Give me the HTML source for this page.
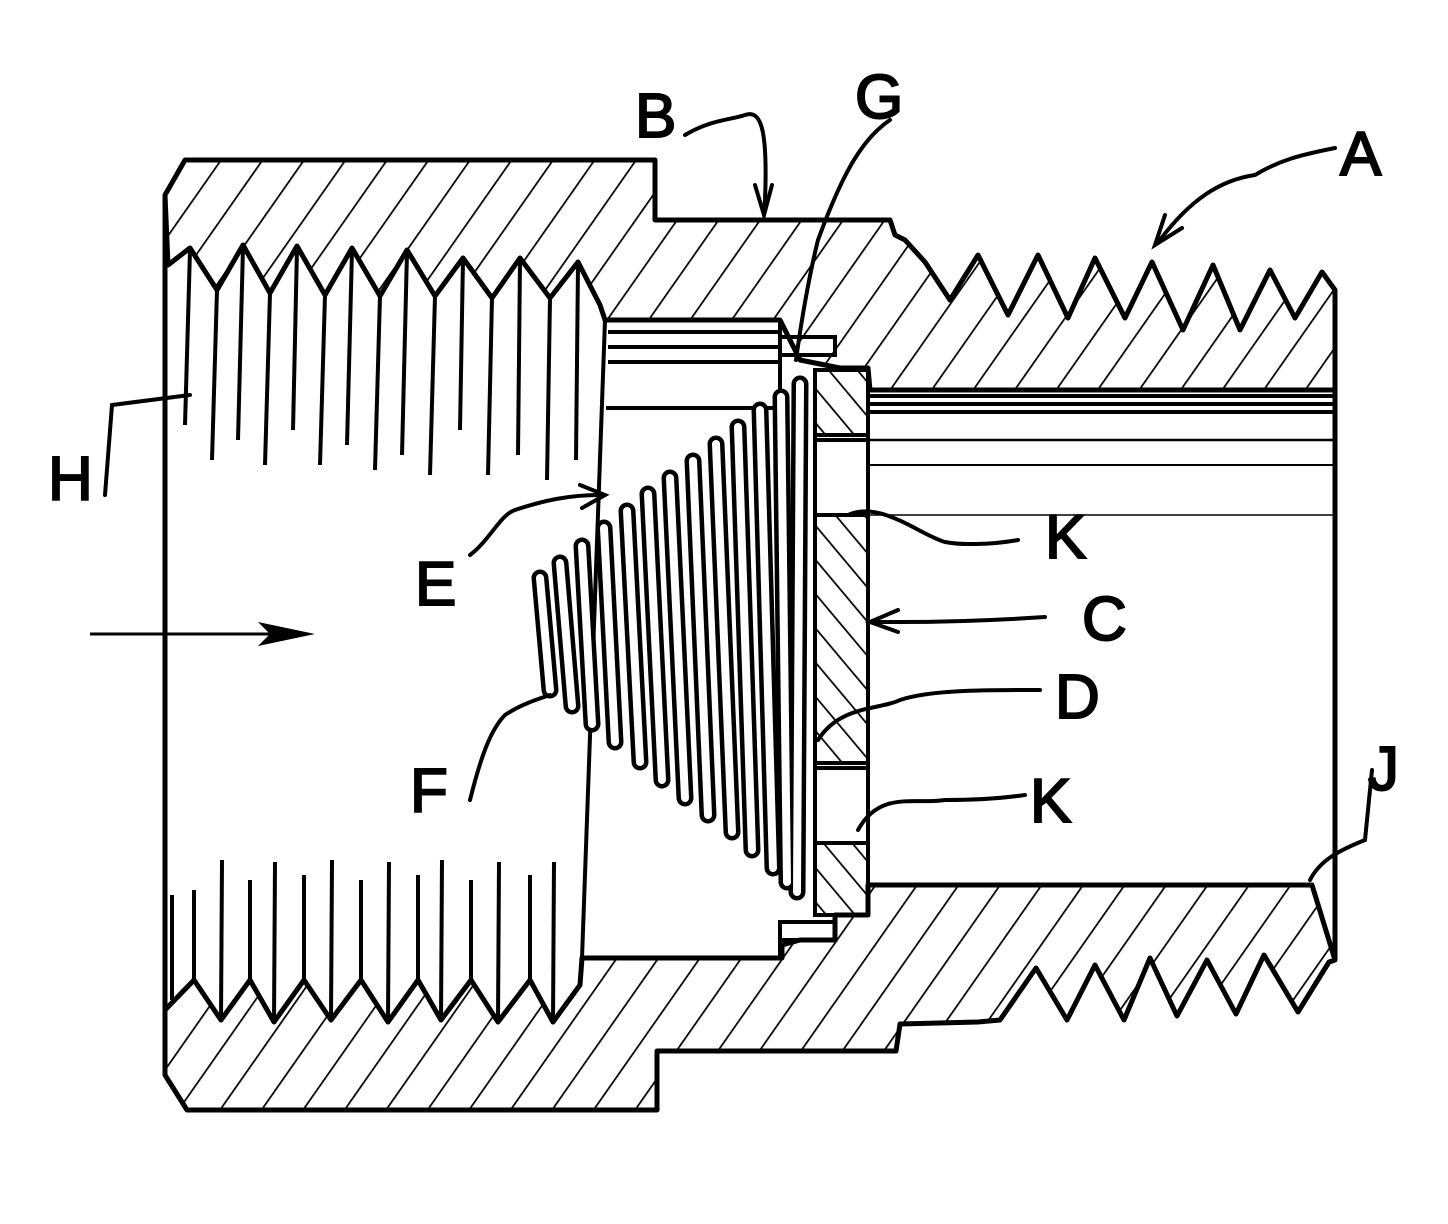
<!DOCTYPE html>
<html><head><meta charset="utf-8"><style>
html,body{margin:0;padding:0;background:#fff}
svg{display:block}
text{font-family:"Liberation Sans",sans-serif;font-size:62px;fill:#000}
</style></head><body>
<svg width="1448" height="1224" viewBox="0 0 1448 1224" xmlns="http://www.w3.org/2000/svg">
<defs>
<pattern id="h" width="34" height="34" patternUnits="userSpaceOnUse" patternTransform="rotate(35)">
<line x1="0" y1="0" x2="0" y2="34" stroke="#000" stroke-width="3.5"/>
</pattern>
<pattern id="d" width="22" height="22" patternUnits="userSpaceOnUse" patternTransform="rotate(-40)">
<line x1="0" y1="0" x2="0" y2="22" stroke="#000" stroke-width="3.5"/>
</pattern>
</defs>
<g stroke="#000" stroke-width="5" stroke-linejoin="round" fill="none">
<!-- top body -->
<path fill="url(#h)" d="M185,160 L655,160 L655,220 L890,220 L895,235 L905,240 L925,262 L950,300 L978,255 L1008,315 L1038,255 L1068,318 L1095,258 L1125,318 L1152,262 L1183,330 L1213,265 L1240,330 L1270,270 L1295,318 L1322,272 L1335,290 L1335,390 L870,390 L868,368 L840,368 L800,360 L780,320 L605,320 L600,305 L578,262 L550,298 L520,258 L492,298 L463,258 L435,296 L407,250 L380,296 L352,248 L325,295 L297,246 L270,293 L243,245 L217,290 L190,248 L168,265 L165,195 Z"/>
<!-- bottom body -->
<path fill="url(#h)" d="M165,1010 L194,980 L221,1020 L250,980 L274,1022 L304,980 L331,1020 L361,980 L388,1022 L418,980 L441,1020 L471,980 L498,1022 L530,980 L553,1022 L580,985 L582,958 L782,958 L782,945 L800,940 L835,940 L835,915 L868,915 L868,885 L1312,885 L1335,960 L1329,962 L1298,1012 L1264,955 L1236,1014 L1207,960 L1177,1016 L1150,958 L1124,1020 L1095,965 L1067,1020 L1036,968 L1000,1020 L978,1022 L900,1024 L896,1051 L657,1051 L657,1110 L187,1110 L165,1075 Z"/>
<!-- left wall -->
<line x1="165" y1="195" x2="165" y2="1075"/>
<line x1="1335" y1="290" x2="1335" y2="960"/>
</g>
<!-- internal thread crest lines top -->
<g stroke="#000" stroke-width="4">
<line x1="190" y1="250" x2="185" y2="425"/><line x1="217" y1="290" x2="212" y2="460"/>
<line x1="243" y1="247" x2="238" y2="440"/><line x1="270" y1="293" x2="265" y2="465"/>
<line x1="297" y1="248" x2="293" y2="430"/><line x1="325" y1="295" x2="320" y2="465"/>
<line x1="352" y1="250" x2="347" y2="445"/><line x1="380" y1="296" x2="375" y2="470"/>
<line x1="407" y1="252" x2="402" y2="455"/><line x1="435" y1="296" x2="430" y2="475"/>
<line x1="463" y1="258" x2="460" y2="430"/><line x1="492" y1="298" x2="488" y2="475"/>
<line x1="520" y1="260" x2="518" y2="455"/><line x1="550" y1="298" x2="547" y2="480"/>
<line x1="578" y1="264" x2="576" y2="460"/>
<!-- bottom -->
<line x1="194" y1="980" x2="194" y2="890"/><line x1="221" y1="1020" x2="222" y2="860"/>
<line x1="250" y1="980" x2="250" y2="880"/><line x1="274" y1="1022" x2="275" y2="862"/>
<line x1="304" y1="980" x2="304" y2="875"/><line x1="331" y1="1020" x2="332" y2="860"/>
<line x1="361" y1="980" x2="361" y2="880"/><line x1="388" y1="1022" x2="389" y2="862"/>
<line x1="418" y1="980" x2="418" y2="875"/><line x1="441" y1="1020" x2="442" y2="860"/>
<line x1="471" y1="980" x2="471" y2="880"/><line x1="498" y1="1022" x2="499" y2="862"/>
<line x1="530" y1="980" x2="530" y2="875"/><line x1="553" y1="1022" x2="554" y2="862"/>
<line x1="172" y1="895" x2="172" y2="1000"/>
</g>
<!-- chamber -->
<g stroke="#000" stroke-width="4" fill="none">
<line x1="605" y1="320" x2="582" y2="958"/>
<line x1="608" y1="332" x2="780" y2="332"/>
<line x1="608" y1="347" x2="780" y2="347"/>
<line x1="608" y1="362" x2="780" y2="362"/>
<line x1="606" y1="408" x2="780" y2="408"/>
<line x1="780" y1="320" x2="780" y2="408"/>
<line x1="780" y1="925" x2="780" y2="958"/>
<rect x="780" y="337" width="55" height="18"/>
<rect x="780" y="922" width="55" height="18"/>
<!-- bore lines -->
<line x1="870" y1="396" x2="1335" y2="396"/>
<line x1="870" y1="404" x2="1335" y2="404"/>
<line x1="870" y1="412" x2="1335" y2="412"/>
<line x1="870" y1="440" x2="1335" y2="440" stroke-width="2.5"/>
<line x1="870" y1="465" x2="1335" y2="465" stroke-width="2"/>
<line x1="870" y1="515" x2="1335" y2="515" stroke-width="1.5"/>
</g>
<!-- disc -->
<g stroke="#000" stroke-width="4">
<rect x="815" y="370" width="53" height="65" fill="url(#d)"/>
<rect x="815" y="515" width="53" height="248" fill="url(#d)"/>
<rect x="815" y="843" width="53" height="72" fill="url(#d)"/>
<line x1="815" y1="370" x2="815" y2="915"/>
<line x1="868" y1="370" x2="868" y2="915"/>
<line x1="815" y1="440" x2="868" y2="440"/>
<line x1="815" y1="768" x2="868" y2="768"/>
</g>
<!-- spring -->
<g stroke-linecap="round">
<g stroke="#000" stroke-width="17">
<line x1="540" y1="578" x2="550" y2="690"/><line x1="560" y1="563" x2="572" y2="706"/>
<line x1="582" y1="546" x2="592" y2="724"/><line x1="604" y1="528" x2="615" y2="742"/>
<line x1="627" y1="511" x2="640" y2="762"/><line x1="648" y1="494" x2="662" y2="780"/>
<line x1="670" y1="478" x2="685" y2="798"/><line x1="693" y1="461" x2="708" y2="815"/>
<line x1="716" y1="444" x2="732" y2="832"/><line x1="738" y1="427" x2="752" y2="850"/>
<line x1="760" y1="410" x2="773" y2="868"/><line x1="781" y1="397" x2="787" y2="882"/>
<line x1="800" y1="384" x2="797" y2="892"/>
</g>
<g stroke="#fff" stroke-width="8">
<line x1="540" y1="578" x2="550" y2="690"/><line x1="560" y1="563" x2="572" y2="706"/>
<line x1="582" y1="546" x2="592" y2="724"/><line x1="604" y1="528" x2="615" y2="742"/>
<line x1="627" y1="511" x2="640" y2="762"/><line x1="648" y1="494" x2="662" y2="780"/>
<line x1="670" y1="478" x2="685" y2="798"/><line x1="693" y1="461" x2="708" y2="815"/>
<line x1="716" y1="444" x2="732" y2="832"/><line x1="738" y1="427" x2="752" y2="850"/>
<line x1="760" y1="410" x2="773" y2="868"/><line x1="781" y1="397" x2="787" y2="882"/>
<line x1="800" y1="384" x2="797" y2="892"/>
</g>
</g>
<!-- flow arrow -->
<g stroke="#000" stroke-width="3" fill="none">
<line x1="90" y1="634" x2="300" y2="634"/>
</g>
<path d="M315,634 L258,622 L270,634 L258,646 Z" fill="#000"/>
<!-- leaders -->
<g stroke="#000" stroke-width="4" fill="none" stroke-linecap="round">
<path d="M685,135 C710,120 730,120 745,115 C760,110 768,125 765,200 L764,215"/>
<path d="M755,185 L764,215 L772,185"/>
<path d="M890,120 C860,140 840,180 818,240 C808,280 800,330 796,360"/>
<path d="M1335,148 C1300,155 1280,160 1255,175 C1220,180 1190,200 1160,240"/>
<path d="M1165,215 L1155,245 L1182,228"/>
<path d="M105,495 L112,405 L190,395"/>
<path d="M470,555 C490,540 500,515 515,510 C545,500 570,495 600,495"/>
<path d="M580,485 L605,495 L582,508"/>
<path d="M1018,540 C990,545 960,545 945,542 C920,535 880,500 848,515"/>
<path d="M1045,617 C1000,620 950,622 900,622 L870,622"/>
<path d="M898,610 L870,622 L898,632"/>
<path d="M1040,690 C980,690 930,690 900,700 C880,710 840,705 818,740"/>
<path d="M1025,795 C990,800 960,800 945,800 C915,805 880,790 858,830"/>
<path d="M1372,770 L1365,840 C1340,850 1320,860 1310,880"/>
<path d="M470,800 C480,760 490,730 505,715 C520,705 535,700 550,695"/>
</g>
<!-- labels -->
<g stroke="#000" stroke-width="2">
<text x="635" y="137">B</text>
<text x="855" y="118" font-size="50">G</text>
<text x="1340" y="175">A</text>
<text x="48" y="500">H</text>
<text x="415" y="605">E</text>
<text x="1045" y="558">K</text>
<text x="1082" y="640">C</text>
<text x="1055" y="718">D</text>
<text x="1030" y="822">K</text>
<text x="1368" y="790">J</text>
<text x="410" y="812">F</text>
</g>
</svg>
</body></html>
